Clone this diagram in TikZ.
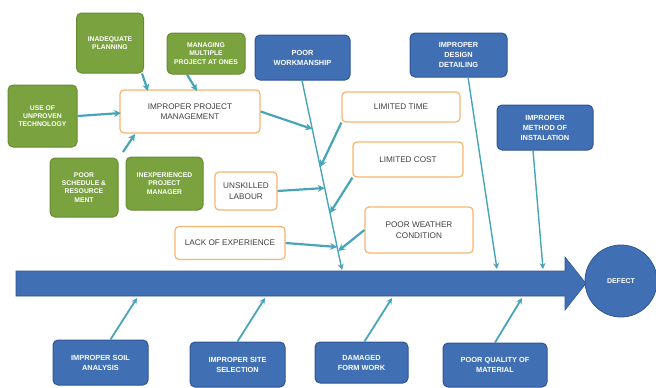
\documentclass[tikz,border=0pt]{standalone}
\usepackage{fontspec}
\setmainfont{Liberation Sans}
\usetikzlibrary{arrows.meta,calc}
\definecolor{gbox}{RGB}{122,162,62}
\definecolor{gedge}{RGB}{104,140,50}
\definecolor{bbox}{RGB}{64,111,180}
\definecolor{bedge}{RGB}{48,86,150}
\definecolor{obox}{RGB}{247,180,110}
\definecolor{conn}{RGB}{72,165,185}
\definecolor{txt}{RGB}{64,64,64}
\tikzset{
  greenbox/.style={draw=gedge,line width=1pt,fill=gbox,rounded corners=5pt,text=white,
    font=\fontsize{6.8}{8.2}\selectfont\bfseries,align=center,inner sep=1pt},
  bluebox/.style={draw=bedge,line width=1pt,fill=bbox,rounded corners=5pt,text=white,
    font=\fontsize{7.4}{10}\selectfont\bfseries,align=center,inner sep=1pt},
  orangebox/.style={draw=obox,line width=1.2pt,fill=white,rounded corners=4pt,text=txt,
    font=\fontsize{8.2}{10.5}\selectfont,align=center,inner sep=1pt},
  bone/.style={draw=conn,line width=1.4pt,-{Stealth[length=6pt,width=6pt]}},
  subarrow/.style={draw=conn,line width=2.2pt,-{Stealth[length=7pt,width=7pt]}},
  botarrow/.style={draw=conn,line width=1.8pt,-{Stealth[length=6pt,width=6pt]}},
}
\begin{document}
\begin{tikzpicture}[x=1pt,y=-1pt]
\useasboundingbox (0,0) rectangle (656,388);

% main spine arrow
\fill[bbox,draw=bedge,line width=0.6pt] (16,271) -- (565,271) -- (565,257) -- (586,283.5)
  -- (565,310) -- (565,296) -- (16,296) -- cycle;
\node[circle,fill=bbox,draw=bedge,line width=0.8pt,minimum size=72pt,inner sep=0pt,
  text=white,font=\fontsize{7}{8}\selectfont\bfseries] (defect) at (621,281) {DEFECT};

% green boxes
\node[greenbox,minimum width=67pt,minimum height=60pt] (plan) at (110,43) {INADEQUATE\\PLANNING};
\node[greenbox,minimum width=78pt,minimum height=41pt] (multi) at (206,53.5) {MANAGING\\MULTIPLE\\PROJECT AT ONES};
\node[greenbox,minimum width=69pt,minimum height=62pt] (tech) at (42.5,116) {USE OF\\UNPROVEN\\TECHNOLOGY};
\node[greenbox,minimum width=68pt,minimum height=59pt] (sched) at (84,187.5) {POOR\\SCHEDULE \&\\RESOURCE\\MENT};
\node[greenbox,minimum width=77pt,minimum height=53pt] (inexp) at (164.5,183.5) {INEXPERIENCED\\PROJECT\\MANAGER};

% orange boxes
\node[orangebox,minimum width=140pt,minimum height=43pt] (ipm) at (190,111.5) {IMPROPER PROJECT\\MANAGEMENT};
\node[orangebox,minimum width=62pt,minimum height=38pt] (unsk) at (246,191) {UNSKILLED\\LABOUR};
\node[orangebox,minimum width=118pt,minimum height=30pt] (ltime) at (401,107) {LIMITED TIME};
\node[orangebox,minimum width=110pt,minimum height=35pt] (lcost) at (408,159.5) {LIMITED COST};
\node[orangebox,minimum width=108pt,minimum height=46pt] (weather) at (419,230) {POOR WEATHER\\CONDITION};
\node[orangebox,minimum width=110pt,minimum height=33pt] (lack) at (230,243) {LACK OF EXPERIENCE};

% blue boxes
\node[bluebox,minimum width=95pt,minimum height=45pt] (work) at (302.5,57.5) {POOR\\WORKMANSHIP};
\node[bluebox,minimum width=97pt,minimum height=44pt] (design) at (458.5,55) {IMPROPER\\DESIGN\\DETAILING};
\node[bluebox,minimum width=96pt,minimum height=45pt] (install) at (545,127.5) {IMPROPER\\METHOD OF\\INSTALATION};
\node[bluebox,minimum width=95pt,minimum height=45pt] (soil) at (100.5,362.5) {IMPROPER SOIL\\ANALYSIS};
\node[bluebox,minimum width=95pt,minimum height=45pt] (site) at (237.5,364.5) {IMPROPER SITE\\SELECTION};
\node[bluebox,minimum width=93pt,minimum height=41pt] (damaged) at (361.5,362.5) {DAMAGED\\FORM WORK};
\node[bluebox,minimum width=104pt,minimum height=44pt] (quality) at (495,365) {POOR QUALITY OF\\MATERIAL};

% coordinates on spine / bones
\coordinate (wend) at (342,270);
\coordinate (dtop) at (468,77);
\coordinate (dend) at (497,269);
\coordinate (iend) at (543,269);
\coordinate (w1) at (312.3,129);
\coordinate (w2) at (320.3,167);
\coordinate (w3) at (324.7,188);
\coordinate (w4) at (330,213);
\coordinate (w5) at (337.2,247);
\coordinate (w6) at (338.2,251);
\coordinate (s1) at (137,298);
\coordinate (s2) at (265,298);
\coordinate (s3) at (392,298);
\coordinate (s4) at (522,298);
\coordinate (p1) at (148,91);
\coordinate (p2) at (197,91);
\coordinate (p3) at (121,113);
\coordinate (p4) at (135,134);
\coordinate (sc) at (123,152);

% bones
\draw[bone] (work.south) ++(-0.5,0) coordinate (wtop) (wtop) -- (wend);
\draw[bone] (dtop) -- (dend);
\draw[bone] (install.south) ++(-12,0) coordinate (itop) (itop) -- (iend);

% sub-causes onto workmanship bone
\draw[subarrow] (ipm.east) -- (w1);
\draw[subarrow] (ltime.south west) -- (w2);
\draw[subarrow] (unsk.east) -- (w3);
\draw[subarrow] (lcost.south west) -- (w4);
\draw[subarrow] (lack.east) -- (w5);
\draw[subarrow] (weather.west) -- (w6);

% green arrows into project management
\draw[subarrow] (plan.south east) ++(-2,0) coordinate (pl) (pl) -- (p1);
\draw[subarrow] (multi.south) ++(-19,0) coordinate (mu) (mu) -- (p2);
\draw[subarrow] (tech.east) -- (p3);
\draw[subarrow] (sc) -- (p4);

% bottom causes
\draw[botarrow] (soil.north) ++(10,0) coordinate (so) (so) -- (s1);
\draw[botarrow] (site.north) coordinate (si) (si) -- (s2);
\draw[botarrow] (damaged.north) ++(3,0) coordinate (da) (da) -- (s3);
\draw[botarrow] (quality.north) coordinate (qu) (qu) -- (s4);
\end{tikzpicture}
\end{document}
